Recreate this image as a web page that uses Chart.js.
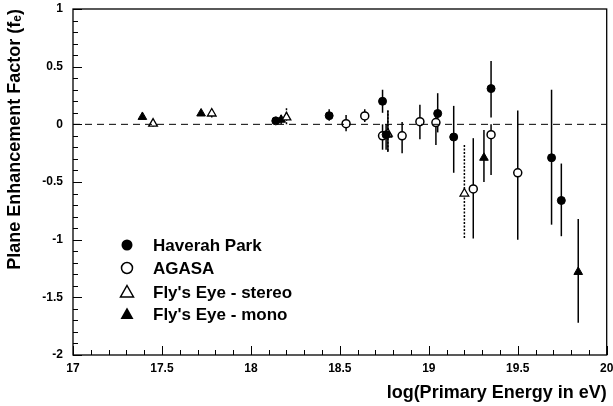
<!DOCTYPE html>
<html>
<head>
<meta charset="utf-8">
<script src="https://cdn.jsdelivr.net/npm/chart.js@4/dist/chart.umd.min.js"></script>
<style>
  html, body { margin: 0; padding: 0; background: #fff; }
  #wrap { width: 613px; height: 406px; }
</style>
</head>
<body>
<div id="wrap"><canvas id="chart"></canvas></div>
<script>
// Haverah Park (filled circles)
const hpX  = [18.14, 18.44, 18.74, 18.76, 19.05, 19.14, 19.35, 19.69, 19.745];
const hpY  = [0.03, 0.075, 0.20, -0.09, 0.094, -0.11, 0.31, -0.29, -0.66];
const hpLo = [0.0, 0.03, 0.10, -0.22, -0.07, -0.42, 0.06, -0.87, -0.97];
const hpHi = [0.06, 0.13, 0.30, 0.0, 0.27, 0.16, 0.55, 0.30, -0.34];

// AGASA (open circles)
const agX  = [18.535, 18.64, 18.74, 18.85, 18.95, 19.04, 19.25, 19.35, 19.50];
const agY  = [0.006, 0.073, -0.10, -0.10, 0.023, 0.015, -0.56, -0.09, -0.42];
const agLo = [-0.06, 0.02, -0.22, -0.25, -0.13, -0.18, -0.99, -0.44, -1.0];
const agHi = [0.08, 0.13, 0.0, 0.02, 0.17, 0.10, -0.12, 0.0, 0.12];

// Fly's Eye - stereo (open triangles)
const fsX  = [17.45, 17.78, 18.20, 18.77, 19.20];
const fsY  = [0.006, 0.094, 0.06, -0.08, -0.60];
const fsLo = [-0.02, 0.06, 0.0, -0.23, -0.985];
const fsHi = [0.03, 0.13, 0.14, 0.12, -0.18];

// Fly's Eye - mono (filled triangles)
const fmX  = [17.39, 17.72, 18.17, 18.77, 19.31, 19.84];
const fmY  = [0.064, 0.094, 0.04, -0.09, -0.29, -1.28];
const fmLo = [0.064, 0.094, 0.0, -0.24, -0.50, -1.72];
const fmHi = [0.064, 0.094, 0.08, 0.12, -0.05, -0.82];

const xRange = [17, 20];
const yRange = [-2, 1];
const zeroX = [17, 20];
const zeroY = [0, 0];

const legendLabels = ['Haverah Park', 'AGASA', "Fly's Eye - stereo", "Fly's Eye - mono"];

function pts(xs, ys) {
    return xs.map((x, i) => ({ x: x, y: ys[i] }));
}

const fontFam = '"Liberation Sans", Arial, Helvetica, sans-serif';

// error bars drawn through the chart scales
const errorBars = {
    id: 'errorBars',
    beforeDatasetsDraw(chart) {
        const ctx = chart.ctx;
        const xs = chart.scales.x, ys = chart.scales.y;
        chart.data.datasets.forEach(ds => {
            if (!ds.errLo) return;
            ctx.save();
            ctx.strokeStyle = '#000';
            ctx.lineWidth = 1.5;
            ctx.setLineDash(ds.errDash || []);
            ds.data.forEach((p, i) => {
                const px = xs.getPixelForValue(p.x);
                ctx.beginPath();
                ctx.moveTo(px, ys.getPixelForValue(ds.errLo[i]));
                ctx.lineTo(px, ys.getPixelForValue(ds.errHi[i]));
                ctx.stroke();
            });
            ctx.restore();
        });
    }
};

// frame, inward ticks with minor ticks, legend
const frame = {
    id: 'frame',
    afterDraw(chart) {
        const ctx = chart.ctx;
        const a = chart.chartArea;
        const xs = chart.scales.x, ys = chart.scales.y;
        ctx.save();
        ctx.strokeStyle = '#000';
        ctx.lineWidth = 1.3;
        ctx.strokeRect(a.left, a.top, a.right - a.left, a.bottom - a.top);
        ctx.lineWidth = 1;
        for (let k = 0; k <= 30; k++) {
            const v = xRange[0] + k * 0.1;
            const px = Math.round(xs.getPixelForValue(v)) + 0.5;
            const len = (k % 5 === 0) ? 9 : 5;
            ctx.beginPath();
            ctx.moveTo(px, a.bottom);
            ctx.lineTo(px, a.bottom - len);
            ctx.stroke();
        }
        for (let k = 0; k <= 30; k++) {
            const v = yRange[0] + k * 0.1;
            const py = Math.round(ys.getPixelForValue(v)) + 0.5;
            const len = (k % 5 === 0) ? 9 : 5;
            ctx.beginPath();
            ctx.moveTo(a.left, py);
            ctx.lineTo(a.left + len, py);
            ctx.stroke();
        }

        // legend
        const lx = 127, tx = 153;
        const rows = [245, 268, 292, 314];
        ctx.font = 'bold 17px ' + fontFam;
        ctx.textBaseline = 'middle';
        ctx.fillStyle = '#000';
        rows.forEach((ry, i) => {
            ctx.lineWidth = 1.5;
            ctx.beginPath();
            if (i < 2) {
                ctx.arc(lx, ry, 5.5, 0, Math.PI * 2);
            } else {
                ctx.moveTo(lx, ry - 6.5);
                ctx.lineTo(lx + 6.5, ry + 5);
                ctx.lineTo(lx - 6.5, ry + 5);
                ctx.closePath();
            }
            if (i === 0 || i === 3) ctx.fill(); else ctx.stroke();
            ctx.fillText(legendLabels[i], tx, ry + 1);
        });
        ctx.restore();
    }
};

const data = {
    datasets: [
        {
            label: 'zero',
            type: 'line',
            data: pts(zeroX, zeroY),
            borderColor: '#000',
            borderWidth: 1,
            borderDash: [7, 5],
            pointRadius: 0,
            fill: false
        },
        {
            label: legendLabels[0],
            data: pts(hpX, hpY),
            errLo: hpLo, errHi: hpHi,
            pointStyle: 'circle',
            pointRadius: 4,
            backgroundColor: '#000',
            borderColor: '#000',
            borderWidth: 1
        },
        {
            label: legendLabels[1],
            data: pts(agX, agY),
            errLo: agLo, errHi: agHi,
            pointStyle: 'circle',
            pointRadius: 4,
            backgroundColor: '#fff',
            borderColor: '#000',
            borderWidth: 1.5
        },
        {
            label: legendLabels[2],
            data: pts(fsX, fsY),
            errLo: fsLo, errHi: fsHi, errDash: [2, 1.5],
            pointStyle: 'triangle',
            pointRadius: 5,
            backgroundColor: '#fff',
            borderColor: '#000',
            borderWidth: 1.3
        },
        {
            label: legendLabels[3],
            data: pts(fmX, fmY),
            errLo: fmLo, errHi: fmHi,
            pointStyle: 'triangle',
            pointRadius: 5,
            backgroundColor: '#000',
            borderColor: '#000',
            borderWidth: 1
        }
    ]
};

const config = {
    type: 'scatter',
    data: data,
    options: {
        responsive: true,
        maintainAspectRatio: false,
        animation: false,
        layout: { padding: { top: 9, right: 5, left: 0, bottom: 0 } },
        plugins: {
            legend: { display: false },
            tooltip: { enabled: false }
        },
        scales: {
            x: {
                type: 'linear',
                min: xRange[0],
                max: xRange[1],
                grid: { display: false, drawTicks: false },
                border: { display: false },
                ticks: {
                    stepSize: 0.5,
                    padding: 6,
                    color: '#000',
                    font: { family: fontFam, size: 12, weight: 'bold' },
                    callback: v => String(v)
                },
                title: {
                    display: true,
                    text: 'log(Primary Energy in eV)',
                    align: 'end',
                    color: '#000',
                    font: { family: fontFam, size: 18, weight: 'bold' },
                    padding: { top: 4, bottom: 2 }
                },
                afterFit: s => {
                    s.height = 51;
                    s.paddingLeft = 0;
                    s.paddingRight = 0;
                }
            },
            y: {
                type: 'linear',
                min: yRange[0],
                max: yRange[1],
                grid: { display: false, drawTicks: false },
                border: { display: false },
                ticks: {
                    stepSize: 0.5,
                    padding: 10,
                    color: '#000',
                    font: { family: fontFam, size: 12, weight: 'bold' },
                    callback: v => String(v)
                },
                title: {
                    display: true,
                    text: 'Plane Enhancement Factor (fₑ)',
                    align: 'end',
                    color: '#000',
                    font: { family: fontFam, size: 18, weight: 'bold' },
                    padding: { top: 4, bottom: 0 }
                },
                afterFit: s => {
                    s.width = 73;
                    s.paddingTop = 0;
                    s.paddingBottom = 0;
                }
            }
        }
    },
    plugins: [errorBars, frame]
};

const chart = new Chart(document.getElementById('chart'), config);
</script>
</body>
</html>
